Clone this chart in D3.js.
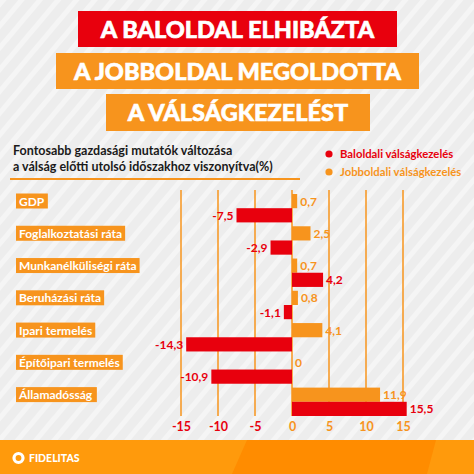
<!DOCTYPE html>
<html>
<head>
<meta charset="utf-8">
<script src="https://cdn.jsdelivr.net/npm/d3@7"></script>
<style>
  html, body { margin: 0; padding: 0; background: #eeeeee; }
  svg { display: block; font-family: Lato, "Open Sans", sans-serif; }
</style>
</head>
<body>
<div id="chart"></div>
<script>
// Chart data
const categories = ["GDP", "Foglalkoztatási ráta", "Munkanélküliségi ráta", "Beruházási ráta",
  "Ipari termelés", "Építőipari termelés", "Államadósság"];
const jobbValues = [0.7, 2.5, 0.7, 0.8, 4.1, 0, 11.9];
const balValues = [-7.5, -2.9, 4.2, -1.1, -14.3, -10.9, 15.5];
const tickValues = [-15, -10, -5, 0, 5, 10, 15];
const titleLines = ["A BALOLDAL ELHIBÁZTA", "A JOBBOLDAL MEGOLDOTTA", "A VÁLSÁGKEZELÉST"];
const legendLabels = ["Baloldali válságkezelés", "Jobboldali válságkezelés"];

const RED = "#e8000d";
const ORANGE = "#f7941d";
const W = 474, H = 474;

const svg = d3.select("#chart")
  .append("svg")
  .attr("width", W)
  .attr("height", H);

// Striped background
const defs = svg.append("defs");
const pat = defs.append("pattern")
  .attr("id", "stripes")
  .attr("patternUnits", "userSpaceOnUse")
  .attr("width", 14)
  .attr("height", 14)
  .attr("patternTransform", "rotate(40)");
pat.append("rect").attr("width", 14).attr("height", 14).attr("fill", "#ededed");
pat.append("rect").attr("width", 5).attr("height", 14).attr("fill", "#f5f5f5");

svg.append("rect").attr("width", W).attr("height", H).attr("fill", "url(#stripes)");

// Title boxes
const titleBoxes = [
  { x: 78, y: 11, w: 319, h: 36, fill: RED },
  { x: 56, y: 53, w: 363, h: 36, fill: ORANGE },
  { x: 106, y: 94, w: 264, h: 37, fill: ORANGE }
];
titleBoxes.forEach((b, i) => {
  svg.append("rect")
    .attr("x", b.x).attr("y", b.y)
    .attr("width", b.w).attr("height", b.h)
    .attr("fill", b.fill);
  svg.append("text")
    .attr("x", b.x + b.w / 2)
    .attr("y", b.y + b.h / 2 + 8.5)
    .attr("text-anchor", "middle")
    .attr("fill", "#fff")
    .attr("font-size", 23.5)
    .attr("font-weight", 900)
    .attr("stroke", "#fff")
    .attr("stroke-width", 0.6)
    .text(titleLines[i]);
});

// Subtitle
const sub = svg.append("text")
  .attr("fill", "#1a1a1a")
  .attr("font-size", 12.5)
  .attr("font-weight", 700);
sub.append("tspan").attr("x", 13).attr("y", 155).text("Fontosabb gazdasági mutatók változása");
sub.append("tspan").attr("x", 13).attr("y", 171).text("a válság előtti utolsó időszakhoz viszonyítva(%)");

svg.append("rect")
  .attr("x", 10).attr("y", 178)
  .attr("width", 290).attr("height", 2)
  .attr("fill", ORANGE);

// Legend
[RED, ORANGE].forEach((c, i) => {
  const y = 154 + i * 18;
  svg.append("circle").attr("cx", 329).attr("cy", y).attr("r", 3.6).attr("fill", c);
  svg.append("text")
    .attr("x", 340).attr("y", y + 4)
    .attr("fill", c)
    .attr("font-size", 11.3)
    .attr("font-weight", 700)
    .text(legendLabels[i]);
});

// Scales
const xScale = d3.scaleLinear()
  .domain([-15, 15])
  .range([181, 403]);

const yScale = d3.scaleBand()
  .domain(categories)
  .range([194, 416])
  .paddingInner(0.12)
  .paddingOuter(0);

const half = yScale.bandwidth() / 2;
const fmt = v => String(v).replace(".", ",");

// Gridlines
svg.append("g")
  .selectAll("line")
  .data(tickValues)
  .join("line")
  .attr("x1", d => xScale(d))
  .attr("x2", d => xScale(d))
  .attr("y1", 190)
  .attr("y2", 416)
  .attr("stroke", ORANGE)
  .attr("stroke-width", 1.5);

// Category labels
const labels = svg.append("g")
  .selectAll("g")
  .data(categories)
  .join("g")
  .attr("transform", d => `translate(16,${yScale(d)})`);

labels.append("text")
  .attr("x", 3)
  .attr("y", 11.5)
  .attr("fill", "#fff")
  .attr("font-size", 12)
  .attr("font-weight", 700)
  .text(d => d)
  .each(function() {
    const bb = this.getBBox();
    d3.select(this.parentNode).insert("rect", "text")
      .attr("x", 0).attr("y", -0.5)
      .attr("width", bb.width + 6)
      .attr("height", 15)
      .attr("fill", ORANGE);
  });

// Bars
const rows = categories.map((c, i) => ({ cat: c, jobb: jobbValues[i], bal: balValues[i] }));

const series = [
  { key: "jobb", color: ORANGE, offset: 0 },
  { key: "bal", color: RED, offset: half }
];

series.forEach(s => {
  const g = svg.append("g");
  g.selectAll("rect")
    .data(rows)
    .join("rect")
    .attr("x", d => xScale(Math.min(0, d[s.key])))
    .attr("y", d => yScale(d.cat) + s.offset)
    .attr("width", d => Math.abs(xScale(d[s.key]) - xScale(0)))
    .attr("height", half)
    .attr("fill", s.color);

  g.selectAll("text")
    .data(rows)
    .join("text")
    .attr("x", d => d[s.key] < 0 ? xScale(d[s.key]) - 3 : xScale(d[s.key]) + 3)
    .attr("y", d => yScale(d.cat) + s.offset + half / 2 + 4.5)
    .attr("text-anchor", d => d[s.key] < 0 ? "end" : "start")
    .attr("fill", s.color)
    .attr("font-size", 12)
    .attr("font-weight", 700)
    .text(d => fmt(d[s.key]));
});

// Axis tick labels
const xAxis = d3.axisBottom(xScale)
  .tickValues(tickValues)
  .tickSize(0)
  .tickPadding(0)
  .tickFormat(fmt);

const axisG = svg.append("g")
  .attr("transform", "translate(0,420)")
  .call(xAxis);
axisG.select(".domain").remove();
axisG.selectAll("text")
  .attr("font-family", "Lato, 'Open Sans', sans-serif")
  .attr("font-size", 12.5)
  .attr("font-weight", 700)
  .attr("fill", d => d < 0 ? RED : ORANGE)
  .attr("dy", "0.9em");

// Footer
svg.append("rect").attr("x", 0).attr("y", 440).attr("width", W).attr("height", 34).attr("fill", "#ff9a0c");
svg.append("path")
  .attr("d", "M247,440 L436,440 L427,474 L232,474 Z")
  .attr("fill", "#ff8c00");

svg.append("circle").attr("cx", 18.5).attr("cy", 458).attr("r", 4.5)
  .attr("fill", "none").attr("stroke", "#fff").attr("stroke-width", 3.2);
svg.append("text")
  .attr("x", 29).attr("y", 462)
  .attr("fill", "#fff")
  .attr("font-size", 10.5)
  .attr("font-weight", 900)
  .text("FIDELITAS");
</script>
</body>
</html>
